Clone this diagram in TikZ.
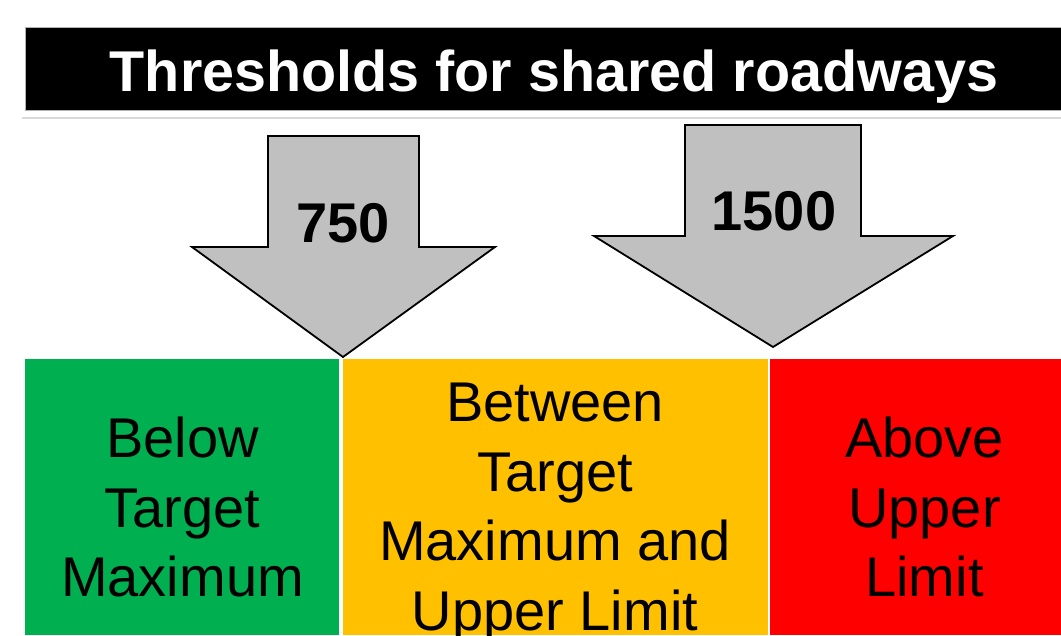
\documentclass[tikz,border=0pt]{standalone}
\usepackage{fontspec}
\setmainfont{Liberation Sans}
\definecolor{bargreen}{HTML}{00B050}
\definecolor{barorange}{HTML}{FFC000}
\definecolor{barred}{HTML}{FF0000}
\definecolor{arrowgray}{HTML}{C0C0C0}
\definecolor{sepgray}{HTML}{D9D9D9}
\tikzset{
  big/.style={font=\fontsize{56}{69.5}\selectfont, inner sep=0pt, align=center},
  bigbold/.style={font=\fontsize{56}{69.5}\selectfont\bfseries, inner sep=0pt},
  titlefont/.style={font=\fontsize{57.5}{69.5}\selectfont\bfseries, inner sep=0pt},
  zone/.style={draw=none, inner sep=0pt, anchor=north west},
  downarrow/.style={fill=arrowgray, draw=black, line width=1.8pt, line join=miter}
}
\begin{document}
\begin{tikzpicture}[x=1pt,y=-1pt]
\useasboundingbox (0,0) rectangle (1061,635);
% title bar
\node[zone, fill=black, draw=gray!60, line width=0.6pt, minimum width=1036pt, minimum height=83pt] (bar) at (25,27) {};
\node[titlefont, text=white, anchor=base] (title) at (554,91) {Thresholds for shared roadways};
\coordinate (sepL) at (22,118);
\coordinate (sepR) at (1061,118);
\draw[sepgray, line width=2pt] (sepL) -- (sepR);
% colour zones
\node[zone, fill=bargreen, minimum width=314pt, minimum height=276pt] (green) at (25,359) {};
\node[zone, fill=barorange, minimum width=425pt, minimum height=276pt] (orange) at (342.5,359) {};
\node[zone, fill=barred, minimum width=291pt, minimum height=276pt] (red) at (770,359) {};
% arrows
\draw[downarrow] (268,136) -- (419,136) -- (419,247) -- (495,247) -- (343,357) -- (192,247) -- (268,247) -- cycle;
\draw[downarrow] (685,125) -- (861,125) -- (861,236) -- (953,236) -- (773,347) -- (594,236) -- (685,236) -- cycle;
\node[bigbold, anchor=base] (n750) at (343,242) {750};
\node[bigbold, anchor=base] (n1500) at (774,230) {1500};
% zone texts
\node[big, anchor=north] (tgreen) at (182.5,417) {Below\\Target\\Maximum};
\node[big, anchor=north] (torange) at (555,383) {Between\\Target\\Maximum and\\Upper Limit};
\node[big, anchor=north] (tred) at (924.5,417) {Above\\Upper\\Limit};
\end{tikzpicture}
\end{document}
